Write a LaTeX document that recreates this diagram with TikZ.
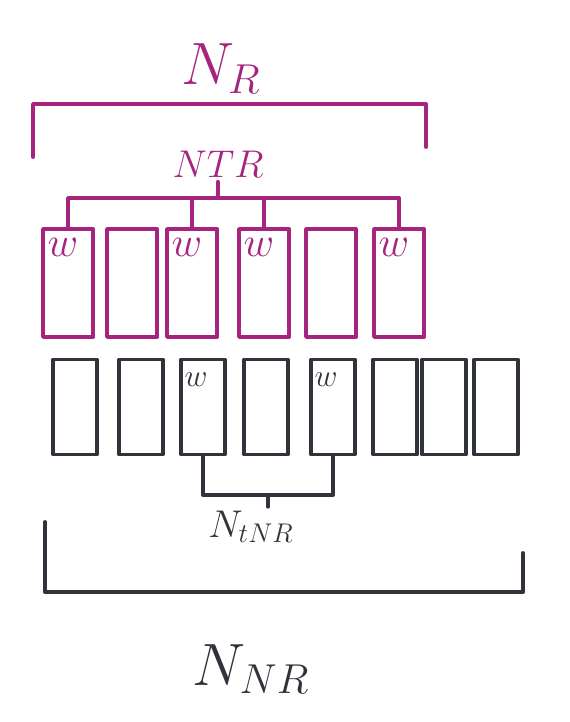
\RequirePackage{fix-cm}
\documentclass[tikz,border=0pt]{standalone}
\usepackage{tikz}
\usetikzlibrary{calc}

\definecolor{markerpink}{RGB}{166,36,126}
\definecolor{markergrey}{RGB}{48,52,58}

\begin{document}
\begin{tikzpicture}[x=0.02cm, y=-0.02cm,
		pen/.style={line width=2.2pt, line cap=round, line join=round},
		pagebox/.style={pen, draw, rectangle, inner sep=0pt},
		wlabel/.style={anchor=north west, inner sep=3pt}]

		\useasboundingbox (0, 0) rectangle (570, 722);

		\pgfmathsetmacro{\pinkrow}{283}
		\pgfmathsetmacro{\greyrow}{407}

		\begin{scope}[color=markerpink]
			\foreach \x [count=\i] in {68, 132, 192, 264, 331, 399}
			{
				\node[pagebox, minimum width=1cm, minimum height=2.16cm] (r\i) at (\x, \pinkrow) {};
			}
			\foreach \i in {1, 3, 4, 6}
				\node[wlabel, font=\fontsize{24}{28}\selectfont] (rw\i) at ([shift={(1, 6)}]r\i.north west) {$w$};

			\node[anchor=base, inner sep=2pt, font=\fontsize{22}{26}\selectfont] (ntr) at (218, 178) {$NTR$};
			\coordinate (trunk) at (218, 198);
			\draw[pen] (r1.north) |- (trunk) -| (r6.north); % outer branches
			\foreach \i in {3, 4}
				\draw[pen] (r\i.north) -- (r\i.north |- trunk); % inner branch
			\draw[pen] (ntr) -- (trunk); % stem

			\node[anchor=base, font=\fontsize{34}{40}\selectfont] (nr) at (221, 85) {$N_R$};
			\coordinate (rleft) at (33, 157);
			\coordinate (rright) at (426, 147);
			\draw[pen] (rleft) -- ++(0, -53) -| (rright); % bracket over all
		\end{scope}

		\begin{scope}[color=markergrey]
			\foreach \x [count=\i] in {75, 141, 203, 266, 333, 395, 444, 496}
			{
				\node[pagebox, minimum width=0.88cm, minimum height=1.9cm] (k\i) at (\x, \greyrow) {};
			}
			\foreach \i in {3, 5}
				\node[wlabel, font=\fontsize{18}{22}\selectfont] (kw\i) at ([shift={(0, 10)}]k\i.north west) {$w$};

			\coordinate (tnrbar) at (0, 495);
			\draw[pen] (k3.south) |- (tnrbar -| k5.south) -- (k5.south); % bracket under w pages
			\coordinate (tnrmid) at ($(k3.south |- tnrbar)!0.5!(k5.south |- tnrbar)$);
			\node[anchor=base, inner sep=2pt, font=\fontsize{22}{26}\selectfont] (ntnr) at (251, 537) {$N_{tNR}$};
			\draw[pen] (tnrmid) -- (tnrmid |- ntnr.north); % stem

			\node[anchor=base, font=\fontsize{34}{40}\selectfont] (nnr) at (251, 685) {$N_{NR}$};
			\coordinate (nleft) at (45, 522);
			\coordinate (nright) at (523, 553);
			\draw[pen] (nleft) -- ++(0, 70) -| (nright); % bracket under all
		\end{scope}
	\end{tikzpicture}
\end{document}
